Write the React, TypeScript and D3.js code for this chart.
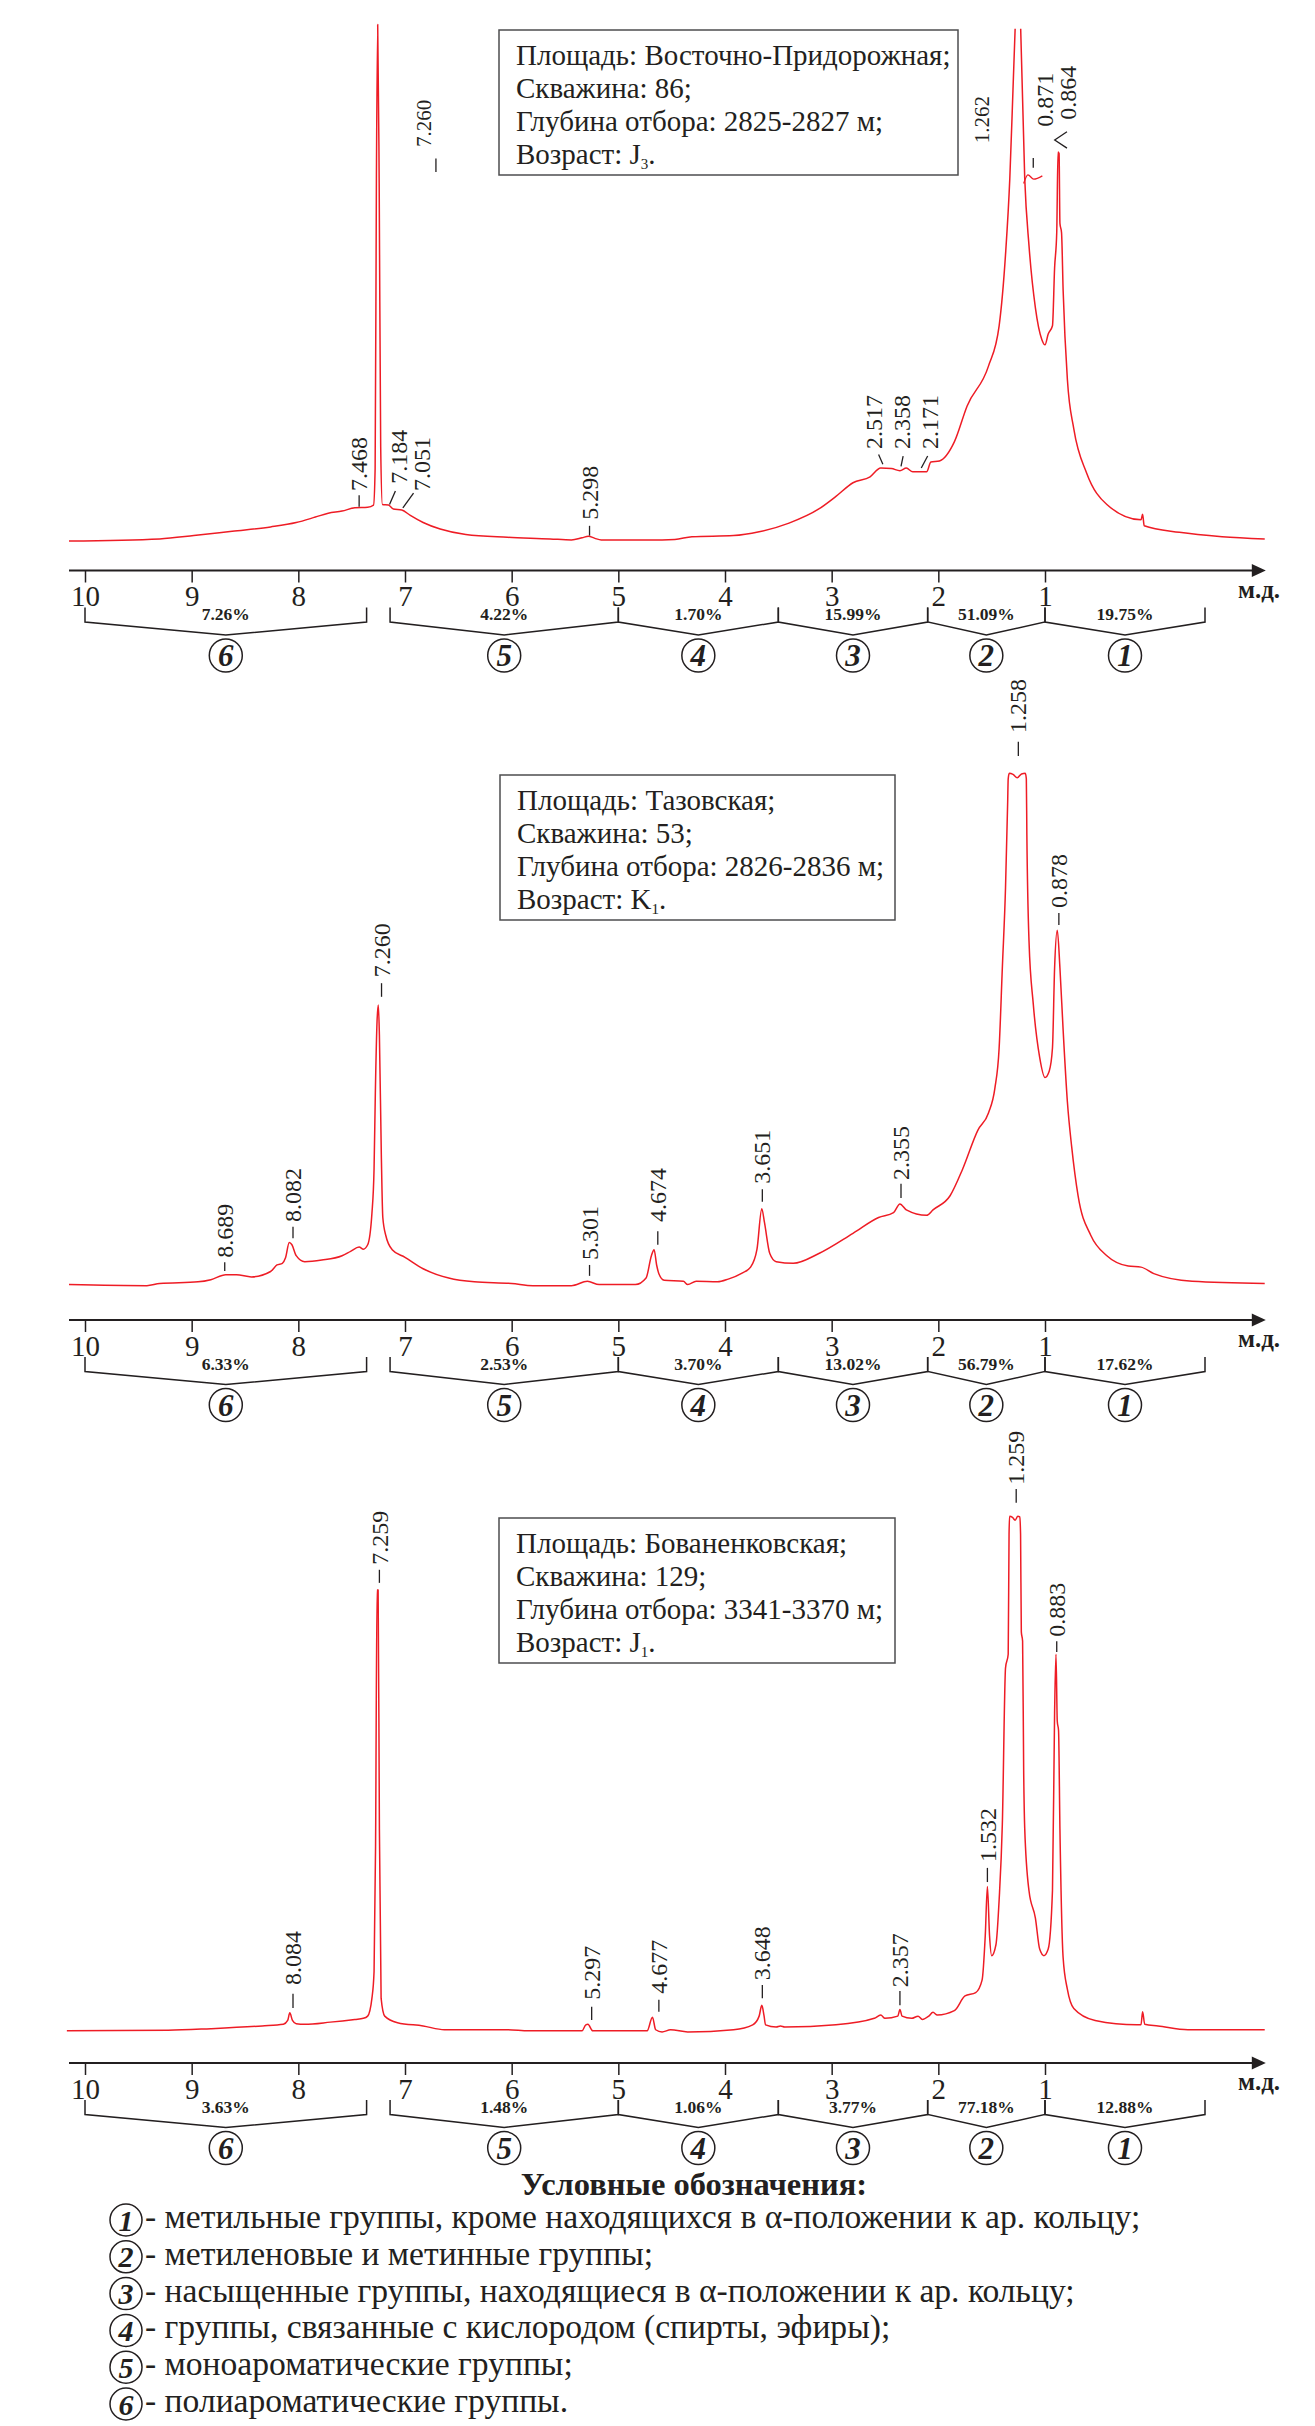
import React, { useEffect, useRef } from "react";
import * as d3 from "d3";

// chemical shift axis, ppm
const ppmTicks = [10, 9, 8, 7, 6, 5, 4, 3, 2, 1];
const regionBounds = [[10, 7.36], [7.14, 5.0], [5.0, 3.5], [3.5, 2.1], [2.1, 1.0], [1.0, -0.5]];
const regionNames = ["6", "5", "4", "3", "2", "1"];

const percents1 = ["7.26%", "4.22%", "1.70%", "15.99%", "51.09%", "19.75%"];
const percents2 = ["6.33%", "2.53%", "3.70%", "13.02%", "56.79%", "17.62%"];
const percents3 = ["3.63%", "1.48%", "1.06%", "3.77%", "77.18%", "12.88%"];

const info1 = ["Площадь: Восточно-Придорожная;", "Скважина: 86;", "Глубина отбора: 2825-2827 м;"];
const info2 = ["Площадь: Тазовская;", "Скважина: 53;", "Глубина отбора: 2826-2836 м;"];
const info3 = ["Площадь: Бованенковская;", "Скважина: 129;", "Глубина отбора: 3341-3370 м;"];
const age1 = ["J", "3"];
const age2 = ["K", "1"];
const age3 = ["J", "1"];

// [ppm, intensity], null = break in the trace
const spectrum1 = [
  [10.15, 5.4], [9.3, 5.8], [8.98, 6.4], [8.62, 7.2], [8.26, 8.0], [8.02, 8.8], [7.84, 9.8], [7.72, 10.5],
  [7.59, 10.9], [7.47, 11.5], [7.35, 11.6], [7.295, 12.0], [7.28, 18.7], [7.268, 71.9], [7.256, 100.2],
  [7.242, 71], [7.228, 22.8], [7.212, 12.1], [7.155, 12.0], [7.11, 11.3], [7.03, 11.1], [6.95, 10.1],
  [6.83, 8.8], [6.67, 7.6], [6.43, 6.6], [6.04, 6.1], [5.64, 5.8], [5.44, 5.6], [5.34, 6.0], [5.28, 6.3],
  [5.22, 5.9], [5.16, 5.6], [4.71, 5.6], [4.47, 5.7], [4.31, 6.2], [3.92, 6.4], [3.68, 7.1], [3.4, 8.7],
  [3.12, 11.3], [2.96, 13.6], [2.8, 16.1], [2.64, 17.2], [2.54, 18.8], [2.44, 18.7], [2.36, 18.3],
  [2.3, 18.8], [2.24, 18.1], [2.11, 18.1], [2.07, 19.9], [1.99, 20.1], [1.85, 23.6], [1.73, 30.2],
  [1.53, 37.5], [1.43, 44.9], [1.37, 58], [1.33, 71.9], [1.3, 88.3], [1.28, 99.4], null,
  [1.228, 99.4], [1.19, 71.9], [1.15, 59.6], [1.09, 48.2], [1.03, 42.4], [1.0, 41.4], [0.97, 43.4],
  [0.93, 44.9], [0.91, 55.5], [0.89, 62], [0.878, 76.8], [0.868, 76.5], [0.86, 63.7], [0.845, 62],
  [0.83, 51.4], [0.79, 35], [0.73, 26], [0.61, 17.9], [0.42, 12.1], [0.1, 9.3], [0.085, 10.3],
  [0.07, 8.2], [-0.26, 7.0], [-0.66, 6.2], [-1.06, 5.8],
];

const spectrum2 = [
  [10.15, 6.5], [9.42, 6.3], [9.3, 6.7], [8.94, 7.0], [8.82, 7.4], [8.68, 8.3], [8.58, 8.3], [8.44, 7.9],
  [8.26, 8.9], [8.2, 10.1], [8.15, 10.4], [8.12, 11.4], [8.085, 14.2], [8.06, 13.8], [8.02, 11.8],
  [7.94, 10.7], [7.78, 11.0], [7.59, 11.8], [7.51, 12.6], [7.43, 13.4], [7.39, 13.0], [7.35, 13.8],
  [7.31, 19.6], [7.29, 27.8], [7.278, 41.7], [7.262, 54.8], [7.25, 57.8], [7.24, 52.3], [7.222, 30.3],
  [7.208, 18.8], [7.18, 15.5], [7.12, 12.9], [7.0, 11.5], [6.83, 9.4], [6.59, 7.7], [6.35, 7.0],
  [6.0, 6.7], [5.8, 6.3], [5.44, 6.3], [5.29, 7.1], [5.18, 6.5], [4.84, 6.5], [4.74, 7.7], [4.69, 11.8],
  [4.665, 12.9], [4.64, 10.0], [4.62, 8.5], [4.57, 7.3], [4.39, 7.1], [4.35, 6.5], [4.27, 7.1],
  [4.07, 7.0], [3.97, 7.5], [3.84, 8.6], [3.76, 9.7], [3.7, 13.0], [3.655, 20.4], [3.63, 17.9],
  [3.58, 12.2], [3.52, 10.7], [3.36, 10.4], [3.12, 12.2], [2.8, 15.9], [2.56, 18.8], [2.42, 19.7],
  [2.36, 21.3], [2.3, 20.2], [2.11, 19.2], [2.05, 20.2], [1.89, 22.8], [1.77, 27.8], [1.63, 34.8],
  [1.53, 38.0], [1.47, 42.5], [1.43, 49.9], [1.4, 64.6], [1.37, 79.4], [1.35, 95], [1.345, 99.3],
  [1.335, 100.3], [1.3, 100.1], [1.26, 99.5], [1.22, 100.2], [1.185, 100.3], [1.175, 99.3], [1.17, 89],
  [1.15, 69.6], [1.11, 58], [1.05, 48.2], [1.0, 44.5], [0.96, 45.7], [0.93, 49.9], [0.91, 64.6],
  [0.885, 71.5], [0.86, 64.6], [0.83, 53.2], [0.79, 40], [0.75, 31.8], [0.69, 22.8], [0.57, 15.5],
  [0.42, 11.8], [0.22, 9.9], [0.1, 9.7], [-0.02, 8.5], [-0.38, 7.1], [-1.06, 6.7],
];

const spectrum3 = [
  [10.17, 5.9], [9.22, 6.0], [8.82, 6.3], [8.34, 6.8], [8.14, 7.1], [8.1, 7.8], [8.08, 9.2], [8.055, 7.8],
  [8.02, 7.2], [7.94, 7.1], [7.7, 7.5], [7.47, 8.0], [7.39, 8.2], [7.35, 8.6], [7.31, 11.9], [7.29, 16.8],
  [7.276, 39.7], [7.262, 86.8], [7.252, 86.8], [7.24, 43], [7.224, 11.9], [7.19, 8.6], [7.07, 7.4],
  [6.83, 6.8], [6.63, 6.1], [6.04, 6.1], [5.84, 5.9], [5.34, 5.9], [5.305, 7.0], [5.285, 7.1],
  [5.24, 5.9], [4.73, 5.9], [4.68, 8.4], [4.65, 6.1], [4.59, 5.7], [4.51, 6.1], [4.35, 5.7], [3.92, 6.1],
  [3.74, 7.0], [3.68, 8.6], [3.655, 10.6], [3.635, 8.8], [3.62, 7.0], [3.52, 6.6], [3.48, 6.8],
  [3.44, 6.6], [2.96, 7.0], [2.6, 8.2], [2.54, 8.8], [2.5, 8.2], [2.38, 8.6], [2.36, 9.8], [2.34, 8.6],
  [2.25, 8.2], [2.19, 8.6], [2.15, 8.0], [2.09, 8.6], [2.05, 9.3], [2.01, 8.8], [1.85, 9.6], [1.75, 12.3],
  [1.65, 12.9], [1.59, 15.2], [1.56, 23.4], [1.54, 32.4], [1.52, 23.4], [1.5, 19.7], [1.46, 21.7],
  [1.43, 29.9], [1.4, 43.8], [1.37, 72.5], [1.345, 75], [1.337, 97], [1.332, 100.3], [1.305, 100.1],
  [1.28, 99.6], [1.255, 100.3], [1.236, 100.2], [1.229, 97], [1.222, 79.1], [1.21, 77.4], [1.2, 53.7],
  [1.19, 43.0], [1.15, 31.6], [1.09, 26.6], [1.05, 20.9], [1.01, 19.7], [0.97, 20.9], [0.93, 31.6],
  [0.91, 64.3], [0.897, 75.0], [0.885, 62.7], [0.873, 61], [0.86, 43.0], [0.83, 19.3], [0.79, 13.5],
  [0.73, 10.0], [0.53, 7.8], [0.14, 7.0], [0.1, 7.0], [0.085, 9.4], [0.065, 7.1], [-0.06, 6.8],
  [-0.34, 6.1], [-1.06, 6.1],
];

// peak labels: [text, column ppm, intensity at text foot, leader from, leader to]
const peaks1 = [
  ["7.468", 7.43, 14.6, [7.43, 13.8], [7.43, 11.7]],
  ["7.184", 7.06, 15.9, [7.09, 14.6], [7.145, 12.1]],
  ["7.051", 6.84, 14.6, [6.92, 14.2], [7.02, 11.5]],
  ["7.260", 6.82, 77.7, [6.71, 75.6], [6.71, 73.1]],
  ["5.298", 5.27, 9.3, [5.27, 8.2], [5.27, 6.4]],
  ["2.517", 2.6, 22.3, [2.56, 21.3], [2.52, 19.5]],
  ["2.358", 2.34, 22.3, [2.33, 21.0], [2.35, 19.1]],
  ["2.171", 2.08, 22.3, [2.1, 21.0], [2.16, 18.8]],
  ["1.262", 1.59, 78.4, [1.11, 75.7], [1.11, 73.9]],
  ["0.871", 1.0, 81.4, null, null],
  ["0.864", 0.79, 82.7, null, null],
];
const peaks2 = [
  ["8.689", 8.69, 11.4, [8.69, 10.6], [8.69, 9.0]],
  ["8.082", 8.05, 18.0, [8.05, 17.1], [8.05, 15.0]],
  ["7.260", 7.22, 62.9, [7.22, 61.8], [7.22, 59.3]],
  ["5.301", 5.27, 11.0, [5.27, 10.1], [5.27, 8.1]],
  ["4.674", 4.63, 18.0, [4.63, 16.3], [4.63, 13.8]],
  ["3.651", 3.65, 25.0, [3.65, 24.0], [3.65, 21.7]],
  ["2.355", 2.35, 25.7, [2.35, 25.0], [2.35, 22.4]],
  ["1.258", 1.25, 107.7, [1.25, 106.1], [1.25, 103.5]],
  ["0.878", 0.87, 75.6, [0.87, 74.7], [0.87, 72.5]],
];
const peaks3 = [
  ["8.084", 8.05, 14.3, [8.05, 12.7], [8.05, 10.1]],
  ["7.259", 7.24, 91.4, [7.24, 90.5], [7.24, 88.1]],
  ["5.297", 5.25, 11.6, [5.25, 10.3], [5.25, 7.9]],
  ["4.677", 4.62, 12.7, [4.62, 11.6], [4.62, 9.4]],
  ["3.648", 3.65, 15.2, [3.65, 14.3], [3.65, 11.9]],
  ["2.357", 2.36, 13.9, [2.36, 13.2], [2.36, 10.6]],
  ["1.532", 1.54, 36.9, [1.54, 35.8], [1.54, 33.2]],
  ["1.259", 1.27, 106.1, [1.27, 105.3], [1.27, 102.8]],
  ["0.883", 0.89, 78.2, [0.89, 77.4], [0.89, 75.4]],
];
const chevron1 = [[0.794, 80.5], [0.909, 79.0], [0.794, 77.5]];
const squiggle1 = [[1.2, 71.0], [1.16, 72.6], [1.106, 71.8], [1.025, 72.4]];

const legendItems = [
  "- метильные группы, кроме находящихся в α-положении к ар. кольцу;",
  "- метиленовые и метинные группы;",
  "- насыщенные группы, находящиеся в α-положении к ар. кольцу;",
  "- группы, связанные с кислородом (спирты, эфиры);",
  "- моноароматические группы;",
  "- полиароматические группы.",
];
const legendNums = ["1", "2", "3", "4", "5", "6"];

const RED = "#ee1c25";
const INK = "#231f20";
const FONT = "'Liberation Serif', 'Times New Roman', serif";

const panels = [
  { axisY: 570.5, box: [499, 30, 459], info: info1, age: age1, spectrum: spectrum1, peaks: peaks1, percents: percents1 },
  { axisY: 1320, box: [500, 775, 395], info: info2, age: age2, spectrum: spectrum2, peaks: peaks2, percents: percents2 },
  { axisY: 2063, box: [499, 1518, 396], info: info3, age: age3, spectrum: spectrum3, peaks: peaks3, percents: percents3 },
];

export default function App()
{
  const ref = useRef<SVGSVGElement>(null);

  useEffect(() =>
  {
    const svg = d3.select(ref.current);
    svg.selectAll("*").remove();

    const x = d3.scaleLinear().domain([10, 1]).range([85, 1045]);

    panels.forEach((p, pi) =>
    {
      const a = p.axisY;
      const y = d3.scaleLinear().domain([0, 100]).range([a, a - 545]);
      const g = svg.append("g");

      const line = d3.line<any>()
        .defined((d) => d != null)
        .x((d) => x(d[0]))
        .y((d) => y(d[1]))
        .curve(d3.curveMonotoneX);

      g.append("path")
        .attr("d", line(p.spectrum as any))
        .attr("fill", "none")
        .attr("stroke", RED)
        .attr("stroke-width", 1.5)
        .attr("stroke-linejoin", "round");

      if (pi === 0)
      {
        g.append("path")
          .attr("d", line(squiggle1 as any))
          .attr("fill", "none")
          .attr("stroke", RED)
          .attr("stroke-width", 1.3);
        g.append("path")
          .attr("d", d3.line<any>().x((d) => x(d[0])).y((d) => y(d[1]))(chevron1 as any))
          .attr("fill", "none")
          .attr("stroke", INK)
          .attr("stroke-width", 1.3);
      }

      // peak labels
      p.peaks.forEach((pk: any) =>
      {
        const fs = (pi === 0 && (pk[0] === "7.260" || pk[0] === "1.262")) ? 21 : 24;
        const tx = x(pk[1]) + 0.34 * fs;
        const ty = y(pk[2]);
        g.append("text")
          .attr("transform", `translate(${tx},${ty}) rotate(-90)`)
          .attr("font-family", FONT)
          .attr("font-size", fs)
          .attr("fill", INK)
          .text(pk[0]);
        if (pk[3])
        {
          g.append("line")
            .attr("x1", x(pk[3][0])).attr("y1", y(pk[3][1]))
            .attr("x2", x(pk[4][0])).attr("y2", y(pk[4][1]))
            .attr("stroke", INK)
            .attr("stroke-width", 1.3);
        }
      });

      // axis
      const axis = g.append("g")
        .attr("transform", `translate(0,${a})`)
        .call(d3.axisBottom(x).tickValues(ppmTicks).tickFormat(d3.format("d")).tickSize(12).tickSizeOuter(0).tickPadding(3));
      axis.select(".domain").remove();
      axis.selectAll(".tick line").attr("stroke", INK).attr("stroke-width", 1.5);
      axis.selectAll(".tick text")
        .attr("font-family", FONT)
        .attr("font-size", 29)
        .attr("fill", INK);

      const x0 = x(10.15);
      const xTip = x(-1.07);
      g.append("line")
        .attr("x1", x0).attr("x2", xTip - 8)
        .attr("y1", a).attr("y2", a)
        .attr("stroke", INK)
        .attr("stroke-width", 2.2);
      g.append("path")
        .attr("d", `M${xTip},${a} L${xTip - 14},${a - 6.5} L${xTip - 14},${a + 6.5} Z`)
        .attr("fill", INK);
      g.append("text")
        .attr("x", 1259)
        .attr("y", a + 27)
        .attr("text-anchor", "middle")
        .attr("font-family", FONT)
        .attr("font-weight", "bold")
        .attr("font-size", 25)
        .attr("fill", INK)
        .text("м.д.");

      // integration regions
      regionBounds.forEach((b, i) =>
      {
        const lx = x(b[0]);
        const rx = x(b[1]);
        const mx = (lx + rx) / 2;
        g.append("path")
          .attr("d", `M${lx},${a + 37} V${a + 51.5} L${mx},${a + 64.5} L${rx},${a + 51.5} V${a + 37}`)
          .attr("fill", "none")
          .attr("stroke", INK)
          .attr("stroke-width", 1.5);
        g.append("text")
          .attr("x", mx)
          .attr("y", a + 49.5)
          .attr("text-anchor", "middle")
          .attr("font-family", FONT)
          .attr("font-weight", "bold")
          .attr("font-size", 17.5)
          .attr("fill", INK)
          .text(p.percents[i]);
        g.append("circle")
          .attr("cx", mx).attr("cy", a + 85).attr("r", 16.5)
          .attr("fill", "none")
          .attr("stroke", INK)
          .attr("stroke-width", 1.5);
        g.append("text")
          .attr("x", mx)
          .attr("y", a + 85)
          .attr("dy", "0.35em")
          .attr("text-anchor", "middle")
          .attr("font-family", FONT)
          .attr("font-weight", "bold")
          .attr("font-style", "italic")
          .attr("font-size", 31)
          .attr("fill", INK)
          .text(regionNames[i]);
      });

      // info box
      const [bx, by, bw] = p.box;
      g.append("rect")
        .attr("x", bx).attr("y", by).attr("width", bw).attr("height", 145)
        .attr("fill", "white")
        .attr("stroke", "#4d4d4f")
        .attr("stroke-width", 1.5);
      const lines = p.info.concat(["Возраст: "]);
      lines.forEach((s, i) =>
      {
        const t = g.append("text")
          .attr("x", bx + 17)
          .attr("y", by + 35 + 33 * i)
          .attr("font-family", FONT)
          .attr("font-size", 29)
          .attr("fill", INK)
          .text(s);
        if (i === 3)
        {
          t.append("tspan").text(p.age[0]);
          t.append("tspan").attr("font-size", 15).attr("dy", 5).text(p.age[1]);
          t.append("tspan").attr("dy", -5).text(".");
        }
      });
    });

    // legend
    svg.append("text")
      .attr("x", 694)
      .attr("y", 2195)
      .attr("text-anchor", "middle")
      .attr("font-family", FONT)
      .attr("font-weight", "bold")
      .attr("font-size", 32.5)
      .attr("fill", INK)
      .text("Условные обозначения:");

    legendItems.forEach((s, i) =>
    {
      const base = 2228 + 36.8 * i;
      svg.append("circle")
        .attr("cx", 126).attr("cy", base - 8).attr("r", 16)
        .attr("fill", "none")
        .attr("stroke", INK)
        .attr("stroke-width", 1.5);
      svg.append("text")
        .attr("x", 126)
        .attr("y", base - 8)
        .attr("dy", "0.35em")
        .attr("text-anchor", "middle")
        .attr("font-family", FONT)
        .attr("font-weight", "bold")
        .attr("font-style", "italic")
        .attr("font-size", 30)
        .attr("fill", INK)
        .text(legendNums[i]);
      svg.append("text")
        .attr("x", 145)
        .attr("y", base)
        .attr("font-family", FONT)
        .attr("font-size", 33.6)
        .attr("fill", INK)
        .text(s);
    });
  }, []);

  return (
    <svg
      ref={ref}
      width={1315}
      height={2426}
      style={{ position: "absolute", left: 0, top: 0, background: "white" }}
    />
  );
}
